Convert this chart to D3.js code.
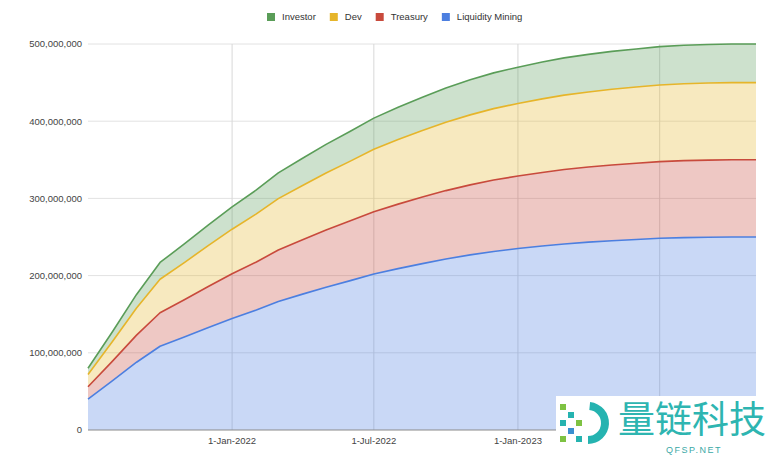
<!DOCTYPE html>
<html>
<head>
<meta charset="utf-8">
<script src="https://cdn.jsdelivr.net/npm/d3@7"></script>
<style>
	body { margin: 0; background: #fff; }
	svg { display: block; font-family: "Liberation Sans", Arial, sans-serif; }
</style>
</head>
<body>
<div id="chart"></div>
<script>
// monthly release dates
var dates = ["2021-07-01","2021-08-01","2021-09-01","2021-10-01","2021-11-01","2021-12-01",
	"2022-01-01","2022-02-01","2022-03-01","2022-04-01","2022-05-01","2022-06-01",
	"2022-07-01","2022-08-01","2022-09-01","2022-10-01","2022-11-01","2022-12-01",
	"2023-01-01","2023-02-01","2023-03-01","2023-04-01","2023-05-01","2023-06-01",
	"2023-07-01","2023-08-01","2023-09-01","2023-10-01","2023-11-01"];

// cumulative tokens per bucket, millions
var liquidityMining = [40, 63.5, 87.8, 108.5, 120.5, 132.5, 144.5, 155.5, 166.5, 176, 185, 193.5, 202, 209, 215.5,
	221.5, 226.8, 231.3, 235, 238.3, 241, 243.3, 245.2, 246.8, 248.3, 249.2, 249.7, 250, 250];
var treasury = [16, 25.4, 35.1, 43.4, 48.2, 53, 57.8, 62.2, 66.6, 70.4, 74, 77.4, 80.8, 83.6, 86.2,
	88.6, 90.7, 92.5, 94, 95.3, 96.4, 97.3, 98.1, 98.7, 99.3, 99.7, 99.9, 100, 100];
var dev = [16, 25.4, 35.1, 43.4, 48.2, 53, 57.8, 62.2, 66.6, 70.4, 74, 77.4, 80.8, 83.6, 86.2,
	88.6, 90.7, 92.5, 94, 95.3, 96.4, 97.3, 98.1, 98.7, 99.3, 99.7, 99.9, 100, 100];
var investor = [8, 12.7, 17.6, 21.7, 24.1, 26.5, 28.9, 31.1, 33.3, 35.2, 37, 38.7, 40.4, 41.8, 43.1,
	44.3, 45.4, 46.3, 47, 47.7, 48.2, 48.7, 49, 49.4, 49.7, 49.8, 49.9, 50, 50];

var seriesNames = ["Liquidity Mining", "Treasury", "Dev", "Investor"];
var legendOrder = ["Investor", "Dev", "Treasury", "Liquidity Mining"];
var yTicks = [0, 100e6, 200e6, 300e6, 400e6, 500e6];
var xGrid = ["2022-01-01", "2022-07-01", "2023-01-01", "2023-07-01"];
var xLabels = ["2022-01-01", "2022-07-01", "2023-01-01"]; // last one sits under the logo

var colors = {
	"Liquidity Mining": "#4c7fe0",
	"Treasury": "#c84a3c",
	"Dev": "#e6b52a",
	"Investor": "#5a9d58"
};

var w = 776, h = 458;
var margin = {top: 44, right: 20, bottom: 28, left: 88},
	width = w - margin.left - margin.right,
	height = h - margin.top - margin.bottom;

var parse = d3.timeParse("%Y-%m-%d");
var fmtDate = d3.timeFormat("%-d-%b-%Y");

var rows = dates.map(function(d, i){
	return {
		date: parse(d),
		"Liquidity Mining": liquidityMining[i] * 1e6,
		"Treasury": treasury[i] * 1e6,
		"Dev": dev[i] * 1e6,
		"Investor": investor[i] * 1e6
	};
});

var svg = d3.select("#chart").append("svg").attr("width", w).attr("height", h);
var g = svg.append("g").attr("transform", "translate(" + margin.left + "," + margin.top + ")");

var x = d3.scaleTime().domain(d3.extent(rows, function(d){ return d.date; })).range([0, width]);
var y = d3.scaleLinear().domain([0, 500e6]).range([height, 0]);

// gridlines
g.append("g")
	.selectAll("line")
	.data(yTicks.slice(1))
	.enter().append("line")
	.attr("x1", 0).attr("x2", width)
	.attr("y1", function(d){ return y(d); })
	.attr("y2", function(d){ return y(d); })
	.attr("stroke", "#e2e2e2");

g.append("g")
	.selectAll("line")
	.data(xGrid)
	.enter().append("line")
	.attr("x1", function(d){ return x(parse(d)); })
	.attr("x2", function(d){ return x(parse(d)); })
	.attr("y1", 0).attr("y2", height)
	.attr("stroke", "#d8d8d8");

var stack = d3.stack().keys(seriesNames);
var layers = stack(rows);

var area = d3.area()
	.x(function(d){ return x(d.data.date); })
	.y0(function(d){ return y(d[0]); })
	.y1(function(d){ return y(d[1]); });

var line = d3.line()
	.x(function(d){ return x(d.data.date); })
	.y(function(d){ return y(d[1]); });

g.selectAll("path.area")
	.data(layers)
	.enter().append("path")
	.attr("class", "area")
	.attr("fill", function(d){ return colors[d.key]; })
	.attr("fill-opacity", 0.3)
	.attr("d", area);

g.selectAll("path.line")
	.data(layers)
	.enter().append("path")
	.attr("class", "line")
	.attr("fill", "none")
	.attr("stroke", function(d){ return colors[d.key]; })
	.attr("stroke-width", 1.6)
	.attr("stroke-linejoin", "round")
	.attr("d", line);

// baseline
g.append("line")
	.attr("x1", 0).attr("x2", width)
	.attr("y1", height).attr("y2", height)
	.attr("stroke", "#8a8a8a");

// y labels
g.append("g")
	.selectAll("text")
	.data(yTicks)
	.enter().append("text")
	.attr("x", -6)
	.attr("y", function(d){ return y(d); })
	.attr("dy", "0.35em")
	.attr("text-anchor", "end")
	.attr("font-size", "9.5px")
	.attr("fill", "#444")
	.text(d3.format(","));

// x labels
g.append("g")
	.selectAll("text")
	.data(xLabels)
	.enter().append("text")
	.attr("x", function(d){ return x(parse(d)); })
	.attr("y", height + 14)
	.attr("text-anchor", "middle")
	.attr("font-size", "9.5px")
	.attr("fill", "#444")
	.text(function(d){ return fmtDate(parse(d)); });

// legend
var legend = svg.append("g").attr("transform", "translate(0,17)");
var lx = 267;
legendOrder.forEach(function(k){
	legend.append("rect")
		.attr("x", lx).attr("y", -4)
		.attr("width", 8).attr("height", 8)
		.attr("fill", colors[k]);
	var t = legend.append("text")
		.attr("x", lx + 15).attr("y", 0)
		.attr("dy", "0.35em")
		.attr("font-size", "9.5px")
		.attr("fill", "#333")
		.text(k);
	lx += 15 + t.node().getComputedTextLength() + 14;
});

// corner logo
var logo = svg.append("g");
logo.append("rect").attr("x", 556).attr("y", 396).attr("width", 220).attr("height", 62).attr("fill", "#fff");
logo.append("path")
	.attr("d", d3.arc()({innerRadius: 13, outerRadius: 21, startAngle: 0.1, endAngle: Math.PI}))
	.attr("transform", "translate(588,423)")
	.attr("fill", "#25b3b0");
[[560,404,"#7ec242"],[568,412,"#25b3b0"],[560,420,"#25b3b0"],[576,420,"#7ec242"],[568,428,"#3a8fd0"],[576,436,"#25b3b0"],[560,436,"#7ec242"]].forEach(function(s){
	logo.append("rect").attr("x", s[0]).attr("y", s[1]).attr("width", 6).attr("height", 6).attr("fill", s[2]);
});
logo.append("text")
	.attr("x", 618).attr("y", 433)
	.attr("font-family", "Noto Sans CJK SC")
	.attr("font-size", "37px")
	.attr("fill", "#2eb5b1")
	.text("量链科技");
logo.append("text")
	.attr("x", 694).attr("y", 453)
	.attr("text-anchor", "middle")
	.attr("font-size", "9px")
	.attr("letter-spacing", "1.5px")
	.attr("fill", "#3aa9a6")
	.text("QFSP.NET");
</script>
</body>
</html>
